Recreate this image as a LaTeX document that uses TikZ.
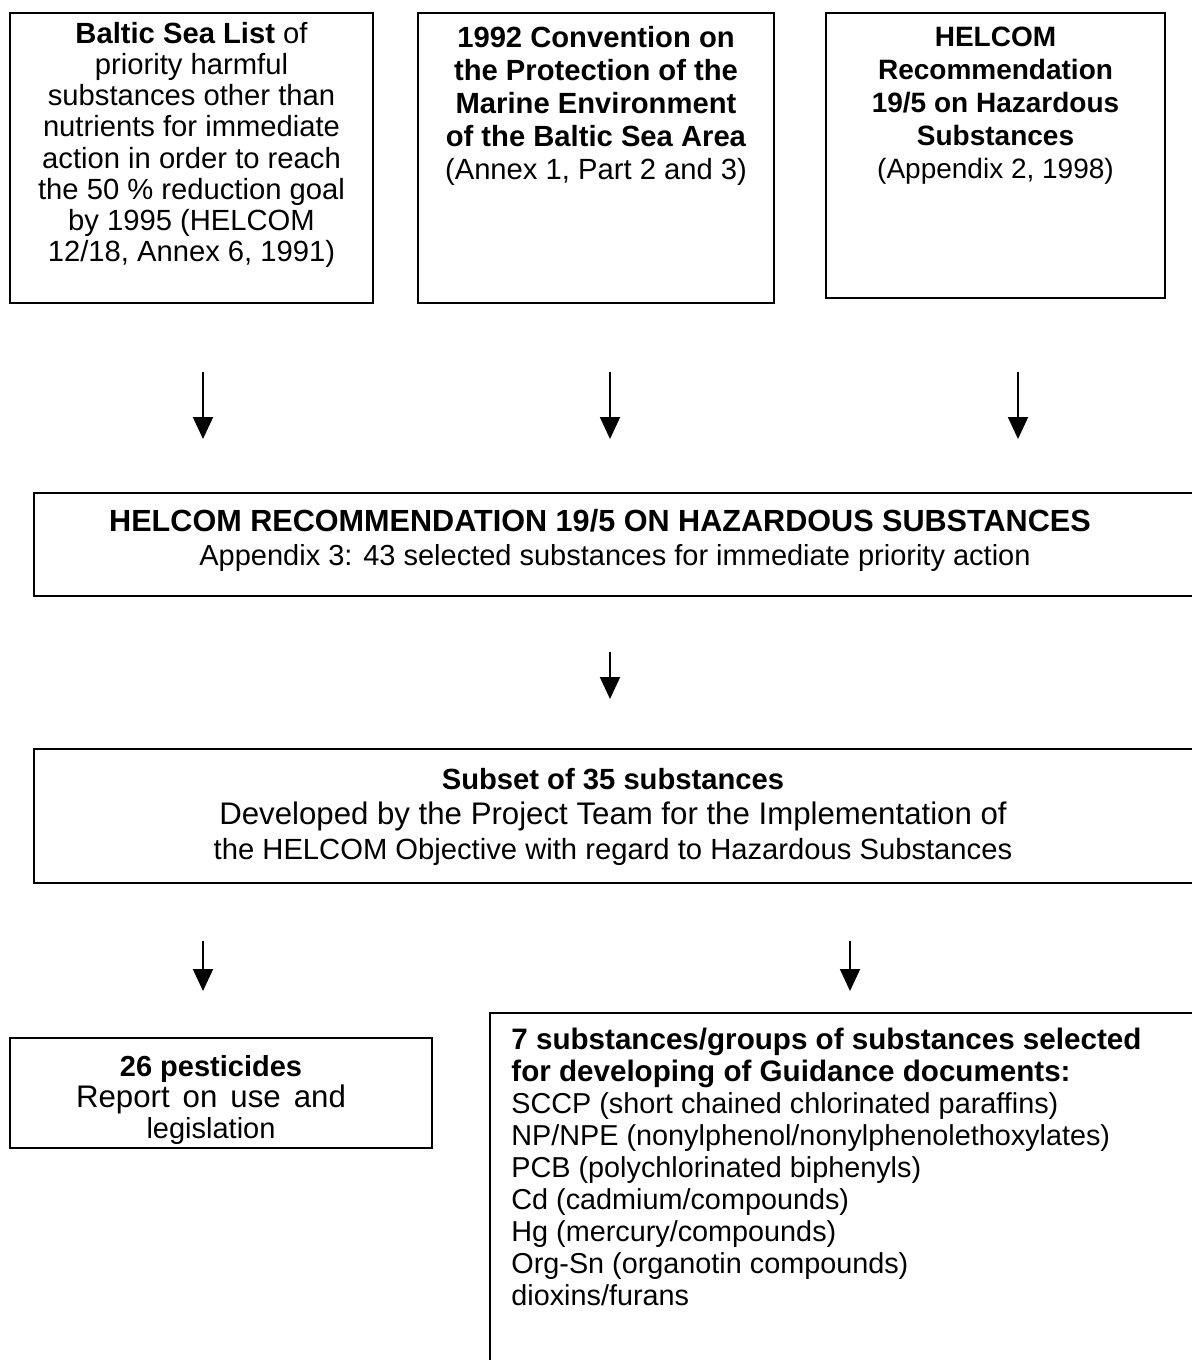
\documentclass[tikz,border=0pt]{standalone}
\usepackage{fontspec}
\setmainfont{Liberation Sans}
\usetikzlibrary{arrows.meta}
\newcommand\fz[2]{\fontsize{#1}{#2}\selectfont}
\newcommand\wsp{\hspace{2.2pt} }
\tikzset{
  frame/.style={draw=black, line width=1pt, inner sep=0pt, fill=none},
  txt/.style={inner sep=0pt, align=center},
  arr/.style={line width=1pt, -{Triangle[width=10pt,length=11pt]}}
}
\begin{document}
\begin{tikzpicture}[x=0.5pt,y=-0.5pt]
\useasboundingbox (0,0) rectangle (1191,1360);
% frames
\node[frame, minimum width=181.5pt, minimum height=145pt] (b1) at (191.5,158) {};
\node[frame, minimum width=178pt, minimum height=145pt] (b2) at (596,158) {};
\node[frame, minimum width=169.5pt, minimum height=142.5pt] (b3) at (995.5,155.5) {};
\node[frame, minimum width=583pt, minimum height=51.5pt] (b4) at (617,544.5) {};
\node[frame, minimum width=583pt, minimum height=67pt] (b5) at (617,816) {};
\node[frame, minimum width=211pt, minimum height=55pt] (b6) at (221,1093) {};
\node[frame, minimum width=355pt, minimum height=178.5pt] (b7) at (845,1191.5) {};
% texts
\node[txt, font=\fz{14.6}{15.6}] (t1) at (191.5,145) {\textbf{Baltic Sea List} of\\priority harmful\\substances other than\\nutrients for immediate\\action in order to reach\\the 50 \% reduction goal\\by 1995 (HELCOM\\12/18, Annex 6, 1991)};
\node[txt, font=\fz{14.6}{16.5}] (t2) at (596,106) {\textbf{1992 Convention on}\\\textbf{the Protection of the}\\\textbf{Marine Environment}\\\textbf{of the Baltic Sea Area}\\(Annex 1, Part 2 and 3)};
\node[txt, font=\fz{14}{16.5}] (t3) at (995.5,106) {\textbf{HELCOM}\\\textbf{Recommendation}\\\textbf{19/5 on Hazardous}\\\textbf{Substances}\\(Appendix 2, 1998)};
\node[txt, font=\fz{14.5}{17}] (t4) at (600,540) {{\fz{15.3}{17}\textbf{HELCOM RECOMMENDATION 19/5 ON HAZARDOUS SUBSTANCES}}\\\hspace*{15pt}Appendix 3: 43 selected substances for immediate priority action};
\node[txt, font=\fz{14.6}{17.5}] (t5) at (613,817) {\textbf{Subset of 35 substances}\\{\fz{15.6}{17.5}Developed by the Project Team for the Implementation of}\\the HELCOM Objective with regard to Hazardous Substances};
\node[txt, font=\fz{14.5}{15.5}] (t6) at (211,1100) {\textbf{26 pesticides}\\{\fz{15.6}{15.5}Report\wsp on\wsp use\wsp and}\\legislation};
\node[txt, font=\fz{14.4}{16}, align=left, anchor=west] (t7) at (511,1167) {{\fz{14.8}{16}\textbf{7 substances/groups of substances selected}}\\{\fz{14.8}{16}\textbf{for developing of Guidance documents:}}\\SCCP (short chained chlorinated paraffins)\\NP/NPE (nonylphenol/nonylphenolethoxylates)\\PCB (polychlorinated biphenyls)\\Cd (cadmium/compounds)\\Hg (mercury/compounds)\\Org-Sn (organotin compounds)\\dioxins/furans};
% arrow coordinates
\coordinate (a1s) at (203,372); \coordinate (a1e) at (203,439);
\coordinate (a2s) at (610,372); \coordinate (a2e) at (610,439);
\coordinate (a3s) at (1018,372); \coordinate (a3e) at (1018,439);
\coordinate (a4s) at (610,652); \coordinate (a4e) at (610,699);
\coordinate (a5s) at (203,941); \coordinate (a5e) at (203,991);
\coordinate (a6s) at (850,941); \coordinate (a6e) at (850,991);
\draw[arr] (a1s) -- (a1e);
\draw[arr] (a2s) -- (a2e);
\draw[arr] (a3s) -- (a3e);
\draw[arr] (a4s) -- (a4e);
\draw[arr] (a5s) -- (a5e);
\draw[arr] (a6s) -- (a6e);
\end{tikzpicture}
\end{document}
